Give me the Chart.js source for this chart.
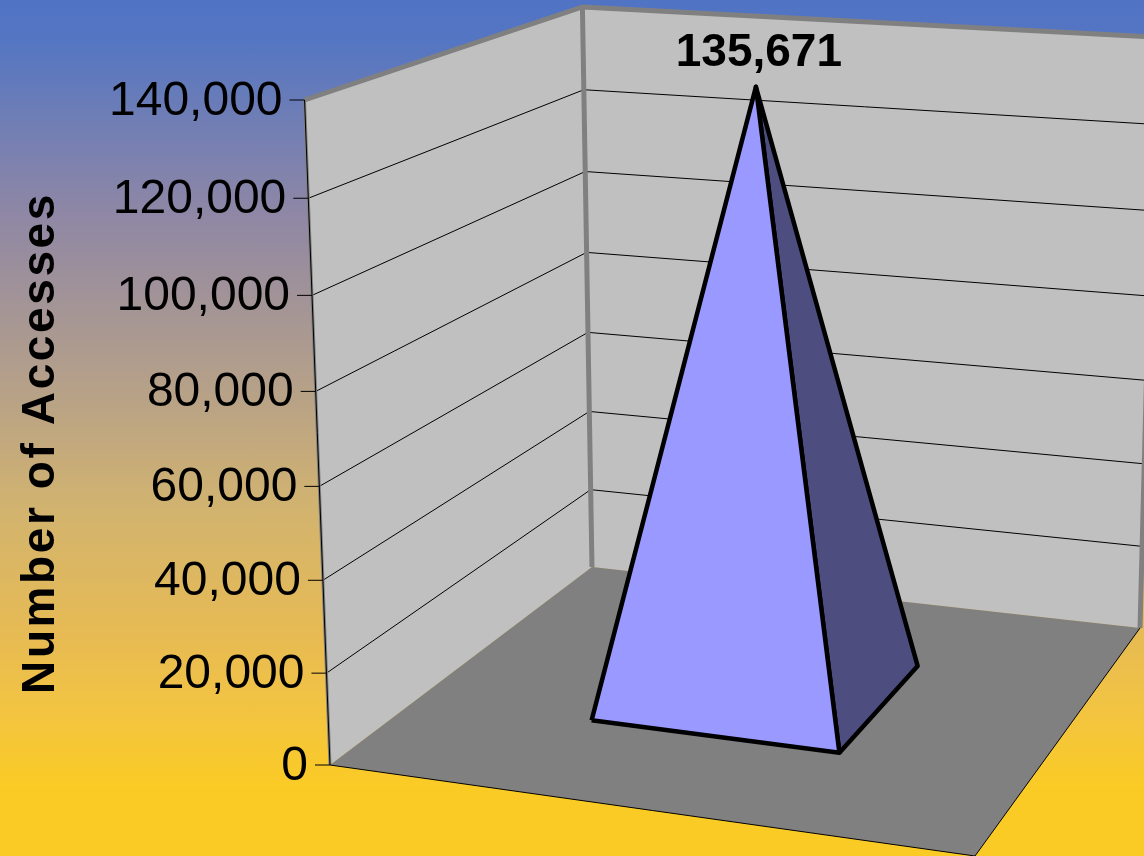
<!DOCTYPE html>
<html>
<head>
<meta charset="utf-8">
<title>Number of Accesses</title>
<style>
  html, body { margin: 0; padding: 0; width: 1144px; height: 856px; overflow: hidden; }
  body { background: linear-gradient(to bottom, #5073c4 0%, #5576c2 5%, #8f87a5 25%, #b5a089 45%, #d3b46e 60%, #e8bb52 75%, #f1c344 82%, #fbcb25 92%, #fbcb25 100%); }
  canvas { display: block; }
</style>
<script src="https://cdn.jsdelivr.net/npm/chart.js@4/dist/chart.umd.js"></script>
</head>
<body>
<canvas id="chart" width="1144" height="856"></canvas>
<script>
const categories = [""];
const accesses = [135671];
const tickValues = [0, 20000, 40000, 60000, 80000, 100000, 120000, 140000];
const axisTitle = "Number of Accesses";

const axisMax = 140000;
const gap = 0.2975;       // space each side of a pyramid, as share of the floor
const depthGap = 0.30;

// floor corners on screen, the camera of the 3D box
const floor = { fl: [330, 765], fr: [975, 856], br: [1140, 628], bl: [592, 567] };
const wallHeight = { fl: 665, bl: 560, br: 591 };
const tilt = 0.04;           // top of the walls is nearer the camera
const vanish = [810, 13300]; // verticals meet down here

// square to quad homography
const dx1 = floor.fr[0] - floor.br[0], dx2 = floor.bl[0] - floor.br[0];
const dx3 = floor.fl[0] - floor.fr[0] + floor.br[0] - floor.bl[0];
const dy1 = floor.fr[1] - floor.br[1], dy2 = floor.bl[1] - floor.br[1];
const dy3 = floor.fl[1] - floor.fr[1] + floor.br[1] - floor.bl[1];
const den = dx1 * dy2 - dx2 * dy1;
const g = (dx3 * dy2 - dx2 * dy3) / den;
const h = (dx1 * dy3 - dx3 * dy1) / den;

function pixelToY(py) {
  return (floor.fl[1] - py) / wallHeight.fl * axisMax;
}

// a = along the front, d = depth, v = value. Result is in scale units.
function project(a, d, v) {
  const w = g * a + h * d + 1;
  const fx = ((floor.fr[0] - floor.fl[0] + g * floor.fr[0]) * a + (floor.bl[0] - floor.fl[0] + h * floor.bl[0]) * d + floor.fl[0]) / w;
  const fy = ((floor.fr[1] - floor.fl[1] + g * floor.fr[1]) * a + (floor.bl[1] - floor.fl[1] + h * floor.bl[1]) * d + floor.fl[1]) / w;
  const height = 1 / (1 / wallHeight.fl + d * (1 / wallHeight.bl - 1 / wallHeight.fl) + a * (1 / wallHeight.br - 1 / wallHeight.bl));
  const t = v / axisMax;
  const rise = height * t / (1 + tilt * (1 - t));
  const x = fx + (fx - vanish[0]) * rise / (vanish[1] - fy);
  return { x: x, y: pixelToY(fy - rise) };
}

function shape(points, fillColor, lineColor, lineWidth, order, join) {
  return {
    data: points,
    showLine: true,
    fill: fillColor ? "shape" : false,
    backgroundColor: fillColor || "transparent",
    borderColor: lineColor || "transparent",
    borderWidth: lineWidth || 0,
    borderJoinStyle: join || "miter",
    pointRadius: 0,
    pointHoverRadius: 0,
    tension: 0,
    clip: false,
    order: order
  };
}

const datasets = [];

// walls and floor
datasets.push(shape([project(0, 0, 0), project(0, 1, 0), project(0, 1, axisMax), project(0, 0, axisMax)], "#c0c0c0", null, 0, 90));
datasets.push(shape([project(0, 1, 0), project(1, 1, 0), project(1, 1, axisMax), project(0, 1, axisMax)], "#c0c0c0", null, 0, 90));
datasets.push(shape([project(0, 0, 0), project(1, 0, 0), project(1, 1, 0), project(0, 1, 0)], "#808080", null, 0, 89));

// gridlines
tickValues.slice(1, -1).forEach(v => {
  datasets.push(shape([project(0, 0, v), project(0, 1, v), project(1, 1, v)], null, "#000000", 1, 80));
});

// wall frame
datasets.push(shape([project(0, 0, axisMax), project(0, 1, axisMax), project(1, 1, axisMax)], null, "#808080", 5, 70));
datasets.push(shape([project(0, 1, 0), project(0, 1, axisMax)], null, "#808080", 5, 70));
datasets.push(shape([project(1, 1, 0), project(1, 1, axisMax)], null, "#808080", 5, 70));
datasets.push(shape([project(0, 0, 0), project(0, 0, axisMax)], null, "#808080", 3, 70));
datasets.push(shape([project(0, 0, 0), project(0, 0, axisMax)], null, "#000000", 1, 69));
datasets.push(shape([project(0, 0, 0), project(1, 0, 0), project(1, 1, 0)], null, "#000000", 1, 69));

// pyramids
categories.forEach((c, i) => {
  const slot = 1 / categories.length;
  const left = slot * (i + gap), right = slot * (i + 1 - gap), mid = slot * (i + 0.5);
  const top = project(mid, 0.5, accesses[i]);
  const a = project(left, depthGap, 0), b = project(right, depthGap, 0), e = project(right, 1 - depthGap, 0);
  datasets.push(shape([b, e, top, b], "#4d4d80", "#000000", 4.5, 11, "round"));
  datasets.push(shape([a, b, top, a], "#9999ff", "#000000", 4.5, 10, "round"));
});

// tick marks, tick labels, value label and the axis title
const labelsPlugin = {
  id: "labels3d",
  afterDatasetsDraw(chart) {
    const ctx = chart.ctx;
    const xs = chart.scales.x, ys = chart.scales.y;
    ctx.save();
    ctx.fillStyle = "#000000";
    ctx.strokeStyle = "#000000";
    ctx.lineWidth = 1;

    ctx.font = "48px 'Liberation Sans'";
    ctx.textAlign = "right";
    ctx.textBaseline = "middle";
    ys.ticks.forEach(t => {
      const p = project(0, 0, t.value);
      const px = xs.getPixelForValue(p.x), py = ys.getPixelForValue(p.y);
      ctx.beginPath();
      ctx.moveTo(px - 15, py);
      ctx.lineTo(px, py);
      ctx.stroke();
      ctx.fillText(t.value.toLocaleString("en-US"), px - 22, py + 1.5);
    });

    ctx.font = "bold 46px 'Liberation Sans'";
    ctx.textAlign = "center";
    ctx.textBaseline = "alphabetic";
    categories.forEach((c, i) => {
      const top = project((i + 0.5) / categories.length, 0.5, accesses[i]);
      ctx.fillText(accesses[i].toLocaleString("en-US"), xs.getPixelForValue(top.x) + 3, ys.getPixelForValue(top.y) - 21);
    });

    ctx.translate(54, 443);
    ctx.rotate(-Math.PI / 2);
    ctx.letterSpacing = "2.6px";
    ctx.fillText(axisTitle, 0, 0);
    ctx.restore();
  }
};

new Chart(document.getElementById("chart"), {
  type: "scatter",
  data: { datasets: datasets },
  plugins: [labelsPlugin],
  options: {
    responsive: false,
    animation: false,
    layout: { padding: 0 },
    plugins: { legend: { display: false }, title: { display: false }, tooltip: { enabled: false } },
    scales: {
      x: { type: "linear", display: false, min: 0, max: 1144 },
      y: {
        type: "linear",
        display: false,
        min: pixelToY(856),
        max: pixelToY(0),
        afterBuildTicks: s => { s.ticks = tickValues.map(v => ({ value: v })); }
      }
    }
  }
});
</script>
</body>
</html>
